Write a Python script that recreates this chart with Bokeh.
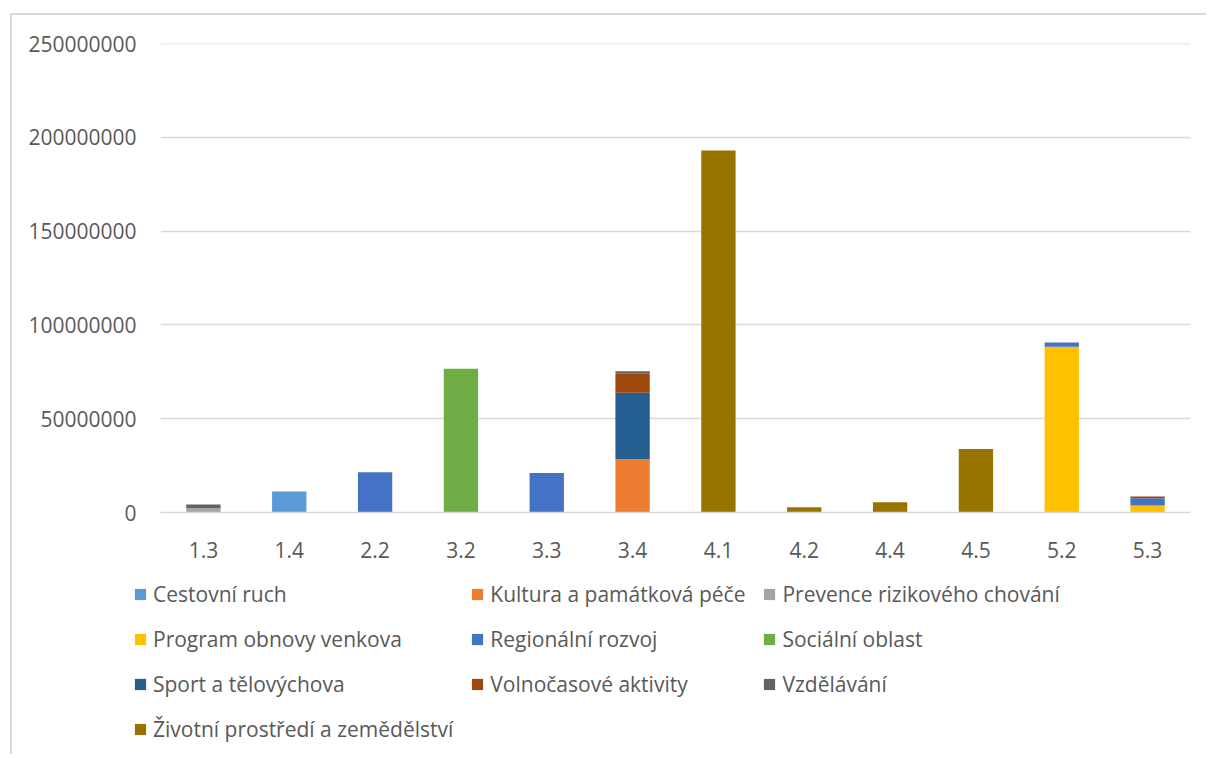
from bokeh.plotting import figure
from bokeh.models import ColumnDataSource, FixedTicker, BasicTickFormatter, Legend, LegendItem, Range1d
from bokeh.embed import file_html
from bokeh.resources import INLINE

categories = ["1.3", "1.4", "2.2", "3.2", "3.3", "3.4", "4.1", "4.2", "4.4", "4.5", "5.2", "5.3"]

series_names = [
    "Cestovní ruch", "Kultura a památková péče", "Prevence rizikového chování",
    "Program obnovy venkova", "Regionální rozvoj", "Sociální oblast",
    "Sport a tělovýchova", "Volnočasové aktivity", "Vzdělávání",
    "Životní prostředí a zemědělství",
]
colors = ["#5B9BD5", "#ED7D31", "#A5A5A5", "#FFC000", "#4472C4", "#70AD47",
          "#255E91", "#9E480E", "#636363", "#997300"]

cestovni_ruch = [0, 11200000, 0, 0, 0, 0, 0, 0, 0, 0, 0, 0]
kultura = [0, 0, 0, 0, 0, 28500000, 0, 0, 0, 0, 0, 0]
prevence = [2300000, 0, 0, 0, 0, 0, 0, 0, 0, 0, 0, 0]
program_obnovy = [0, 0, 0, 0, 0, 0, 0, 0, 0, 0, 88300000, 3700000]
regionalni = [0, 0, 21400000, 0, 21000000, 0, 0, 0, 0, 0, 2300000, 3900000]
socialni = [0, 0, 0, 76600000, 0, 0, 0, 0, 0, 0, 0, 0]
sport = [0, 0, 0, 0, 0, 35300000, 0, 0, 0, 0, 0, 0]
volnocasove = [0, 0, 0, 0, 0, 10200000, 0, 0, 0, 0, 0, 900000]
vzdelavani = [2000000, 0, 0, 0, 0, 1300000, 0, 0, 0, 0, 0, 0]
zivotni = [0, 0, 0, 0, 0, 0, 192900000, 2800000, 5400000, 33900000, 0, 0]

y_ticks = [0, 50000000, 100000000, 150000000, 200000000, 250000000]

keys = ["s%d" % i for i in range(len(series_names))]
data = {"cat": categories}
for k, vals in zip(keys, [cestovni_ruch, kultura, prevence, program_obnovy, regionalni,
                          socialni, sport, volnocasove, vzdelavani, zivotni]):
    data[k] = vals
source = ColumnDataSource(data)

FONT = "Open Sans"
TXT = "#595959"
BORDER = "2px solid #d9d9d9"

# main chart
p = figure(x_range=categories, width=1196, height=563, output_backend="svg",
           toolbar_location=None, min_border_left=148, min_border_right=18,
           min_border_top=28, min_border_bottom=66)
p.styles = {"margin-left": "10px", "margin-top": "13px",
            "border-left": BORDER, "border-top": BORDER}
p.y_range = Range1d(0, 250000000.5)
p.outline_line_color = None
p.background_fill_color = "white"
p.border_fill_color = "white"

p.vbar_stack(keys, x="cat", width=0.4, color=colors, source=source, line_color=None)

p.xgrid.grid_line_color = None
p.ygrid.grid_line_color = "#d9d9d9"
p.ygrid.grid_line_width = 1.5
p.yaxis.ticker = FixedTicker(ticks=y_ticks)
p.yaxis.formatter = BasicTickFormatter(use_scientific=False)
p.yaxis.axis_line_color = None
p.yaxis.major_tick_line_color = None
p.yaxis.minor_tick_line_color = None
p.yaxis.major_label_standoff = 18
p.xaxis.axis_line_color = "#d9d9d9"
p.xaxis.axis_line_width = 1.5
p.xaxis.major_tick_line_color = None
p.xaxis.minor_tick_line_color = None
p.xaxis.major_label_standoff = 23
for ax in (p.xaxis, p.yaxis):
    ax.major_label_text_font = FONT
    ax.major_label_text_font_size = "21px"
    ax.major_label_text_color = TXT

# legend panel (same series, bars kept out of view)
q = figure(x_range=categories, width=1196, height=178, output_backend="svg",
           toolbar_location=None, min_border=0)
q.styles = {"margin-left": "10px", "border-left": BORDER}
q.y_range = Range1d(1e9, 2e9)
q.axis.visible = False
q.grid.grid_line_color = None
q.outline_line_color = None
lrs = q.vbar_stack(keys, x="cat", width=0.4, color=colors, source=source, line_color=None)

items = [LegendItem(label=n, renderers=[r]) for n, r in zip(series_names, lrs)]
legend = Legend(items=items, location=(121, 11), orientation="horizontal", ncols=3,
                glyph_width=14, glyph_height=14, label_standoff=6, label_height=25,
                spacing=17, padding=0, margin=0, border_line_color=None,
                background_fill_alpha=0,
                label_text_font=FONT, label_text_font_size="21px", label_text_color=TXT)
q.add_layout(legend, "center")

open("out.html", "w").write(file_html([p, q], INLINE))
